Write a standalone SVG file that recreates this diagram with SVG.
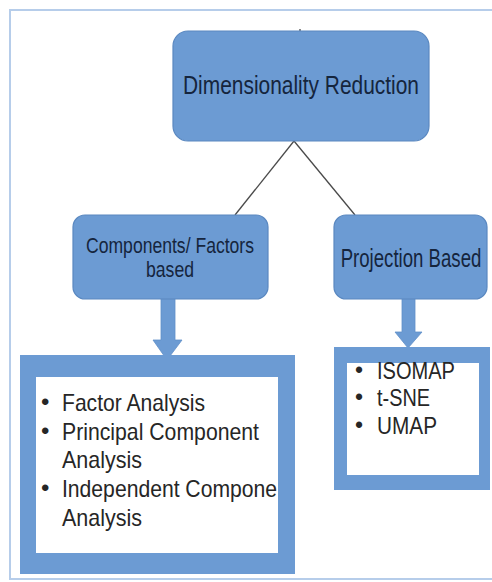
<svg xmlns="http://www.w3.org/2000/svg" width="492" height="582" viewBox="0 0 492 582">
  <defs>
    <style>
      .node { fill: #6c9bd3; stroke: #5a88c0; stroke-width: 1.2; }
      .frame { fill: #6c9bd3; }
      .panel { fill: #ffffff; }
      .label { font-family: "Liberation Sans", Arial, sans-serif; fill: #15253d; text-anchor: middle; }
      .item { font-family: "Liberation Sans", Arial, sans-serif; fill: #262626; }
      .link { stroke: #4a4a4a; stroke-width: 1.3; fill: none; }
      .arrow { fill: #6c9bd3; stroke: #5f8fc9; stroke-width: 0.8; }
    </style>
  </defs>

  <!-- page background and border -->
  <rect x="0" y="0" width="492" height="582" fill="#ffffff"/>
  <rect x="10" y="10" width="490" height="569" fill="none" stroke="#b6cdea" stroke-width="2"/>

  <!-- connectors -->
  <g id="connectors">
    <line class="link" x1="300" y1="29" x2="300" y2="32"/>
    <line class="link" x1="294" y1="141" x2="235" y2="215"/>
    <line class="link" x1="294" y1="141" x2="355" y2="215"/>
    <polygon class="arrow" points="161,298 175,298 175,340 182,340 167,360 153,340 161,340"/>
    <polygon class="arrow" points="402,298 415,298 415,332 422,332 408,348 395,332 402,332"/>
  </g>

  <!-- root -->
  <g id="root">
    <rect class="node" x="173" y="31" width="256" height="110" rx="15" ry="15"/>
    <text class="label" x="301" y="94" font-size="26" textLength="236" lengthAdjust="spacingAndGlyphs">Dimensionality Reduction</text>
  </g>

  <!-- components / factors branch -->
  <g id="components">
    <rect class="node" x="73" y="215" width="195" height="84" rx="12" ry="12"/>
    <text class="label" x="170" y="253" font-size="22" textLength="168" lengthAdjust="spacingAndGlyphs">Components/ Factors</text>
    <text class="label" x="170" y="277" font-size="22" textLength="48" lengthAdjust="spacingAndGlyphs">based</text>
  </g>

  <!-- projection branch: condensed label -->
  <g id="projection">
    <rect class="node" x="334" y="215" width="153" height="84" rx="12" ry="12"/>
    <text class="label" transform="translate(411,267) scale(0.745,1)" x="0" y="0" font-size="25">Projection Based</text>
  </g>

  <!-- components method list -->
  <g id="components-list">
    <rect class="frame" x="20" y="355" width="275" height="219"/>
    <rect class="panel" x="36" y="377" width="242" height="176"/>
    <g font-size="24">
      <text class="item" x="41" y="410">•</text>
      <text class="item" x="62" y="411" textLength="143" lengthAdjust="spacingAndGlyphs">Factor Analysis</text>
      <text class="item" x="41" y="439">•</text>
      <text class="item" x="62" y="440" textLength="197" lengthAdjust="spacingAndGlyphs">Principal Component</text>
      <text class="item" x="62" y="468" textLength="80" lengthAdjust="spacingAndGlyphs">Analysis</text>
      <text class="item" x="41" y="496">•</text>
      <text class="item" x="62" y="497" textLength="215" lengthAdjust="spacingAndGlyphs">Independent Compone</text>
      <text class="item" x="62" y="526" textLength="80" lengthAdjust="spacingAndGlyphs">Analysis</text>
    </g>
  </g>

  <!-- projection method list -->
  <g id="projection-list">
    <rect class="frame" x="334" y="347" width="156" height="143"/>
    <rect class="panel" x="347" y="363" width="132" height="112"/>
    <g font-size="23">
      <text class="item" x="355" y="378">•</text>
      <text class="item" x="377" y="379" textLength="78" lengthAdjust="spacingAndGlyphs">ISOMAP</text>
      <text class="item" x="355" y="405">•</text>
      <text class="item" x="377" y="406" textLength="53" lengthAdjust="spacingAndGlyphs">t-SNE</text>
      <text class="item" x="355" y="433">•</text>
      <text class="item" x="377" y="434" textLength="60" lengthAdjust="spacingAndGlyphs">UMAP</text>
    </g>
  </g>
</svg>
